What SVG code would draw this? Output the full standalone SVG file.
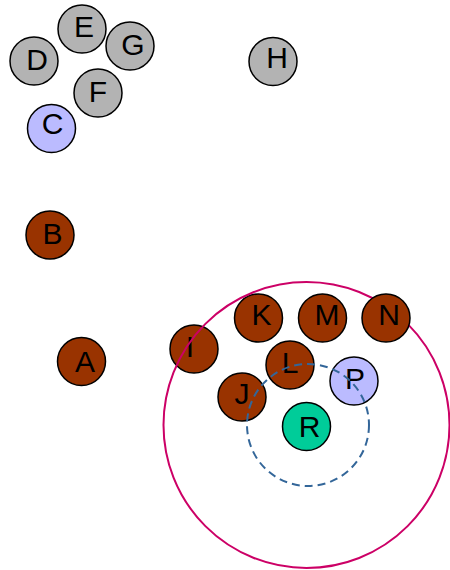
<svg xmlns="http://www.w3.org/2000/svg" width="450" height="570" viewBox="0 0 450 570">
<style>
.n circle{stroke:#000;stroke-width:1.5}
.n text{font-family:"Liberation Sans",Arial,sans-serif;font-size:30px;fill:#000;text-anchor:middle}
.grey circle{fill:#b3b3b3}
.blue circle{fill:#bbbbff}
.brown circle{fill:#993300}
.green circle{fill:#00cc99}
</style>
<rect width="450" height="570" fill="#fff"/>
<g id="nodes">
<g id="D" class="n grey"><circle cx="34" cy="61" r="24"/><text x="37" y="70">D</text></g>
<g id="E" class="n grey"><circle cx="82" cy="29" r="24"/><text x="84" y="37">E</text></g>
<g id="G" class="n grey"><circle cx="130" cy="46" r="24"/><text x="133" y="55">G</text></g>
<g id="F" class="n grey"><circle cx="98" cy="93" r="24"/><text x="98" y="102">F</text></g>
<g id="C" class="n blue"><circle cx="51.5" cy="128.5" r="24"/><text x="52.5" y="133.5">C</text></g>
<g id="H" class="n grey"><circle cx="273" cy="61.5" r="24"/><text x="277" y="67.5">H</text></g>
<g id="B" class="n brown"><circle cx="50" cy="235" r="24"/><text x="52.5" y="244">B</text></g>
<g id="A" class="n brown"><circle cx="81.5" cy="361.5" r="24"/><text x="85" y="372">A</text></g>
<g id="I" class="n brown"><circle cx="194" cy="349" r="24"/><text x="190" y="357">I</text></g>
<g id="K" class="n brown"><circle cx="258.5" cy="318" r="24"/><text x="261.5" y="325">K</text></g>
<g id="M" class="n brown"><circle cx="322.5" cy="318" r="24"/><text x="327" y="325">M</text></g>
<g id="L" class="n brown"><circle cx="290" cy="365" r="24"/><text x="290" y="373">L</text></g>
<g id="P" class="n blue"><circle cx="354" cy="381" r="24"/><text x="355" y="389">P</text></g>
<g id="J" class="n brown"><circle cx="242" cy="397" r="24"/><text x="242" y="403.5">J</text></g>
<g id="R" class="n green"><circle cx="306.5" cy="426.5" r="24"/><text x="309.5" y="436.5">R</text></g>
</g>
<g id="connectors" fill="none">
<circle cx="306.5" cy="425" r="143" stroke="#cc0066" stroke-width="2"/>
<circle cx="308" cy="425" r="61" stroke="#336699" stroke-width="2" stroke-dasharray="8,5"/>
</g>
<g id="N" class="n brown"><circle cx="386" cy="318" r="24"/><text x="389" y="325">N</text></g>
</svg>
